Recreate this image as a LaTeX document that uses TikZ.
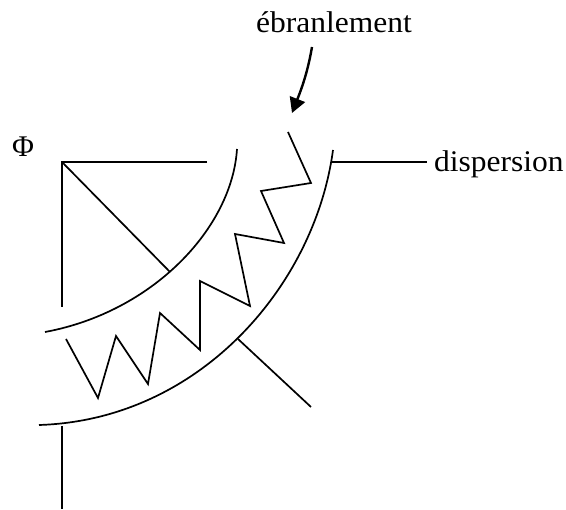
\documentclass[tikz,border=0pt]{standalone}
\usepackage{fontspec}
\setmainfont{Liberation Serif}
\usetikzlibrary{arrows.meta}
\tikzset{
  wire/.style={line width=1.7pt,line cap=butt,line join=miter},
  lbl/.style={inner sep=0pt,xscale=1.05,font=\fontsize{30}{32}\selectfont,text=black},
  pointer/.style={line width=2.4pt,-{Triangle[length=15pt,width=16pt]}}
}
\begin{document}
\begin{tikzpicture}[x=1pt,y=-1pt]
\useasboundingbox (0,0) rectangle (566,510);
\node[lbl,anchor=base] (ebr) at (334,33) {ébranlement};
\node[lbl,anchor=base west] (disp) at (434,172) {dispersion};
\node[lbl,xscale=1/1.05,anchor=base] (phi) at (23,157) {Φ};
\coordinate (o) at (62,162);
\coordinate (a1) at (207,162);
\coordinate (a2) at (62,307);
\coordinate (a3) at (170,272);
\draw[wire] (a1) -- (o) -- (a2);
\draw[wire] (o) -- (a3);
\draw[wire] (237,149) .. controls (232,228) and (153,312) .. (45,332);
\draw[wire] (333,150) .. controls (315,285) and (200,420) .. (39,425);
\draw[wire] (288,132) -- (311,183) -- (261,191) -- (284,243) -- (235,234) -- (250,306) -- (200,281) -- (200,350) -- (160,313) -- (148,384) -- (116,336) -- (98,398) -- (66,339);
\coordinate (b1) at (238,339);
\coordinate (b2) at (311,407);
\draw[wire] (b1) -- (b2);
\coordinate (c1) at (62,426);
\coordinate (c2) at (62,509);
\draw[wire] (c1) -- (c2);
\coordinate (d1) at (332,162);
\draw[wire] (d1) -- (427,162);
\coordinate (e1) at (312,47);
\coordinate (e2) at (292,113);
\draw[pointer] (e1) .. controls (308,70) and (303,85) .. (e2);
\end{tikzpicture}
\end{document}
